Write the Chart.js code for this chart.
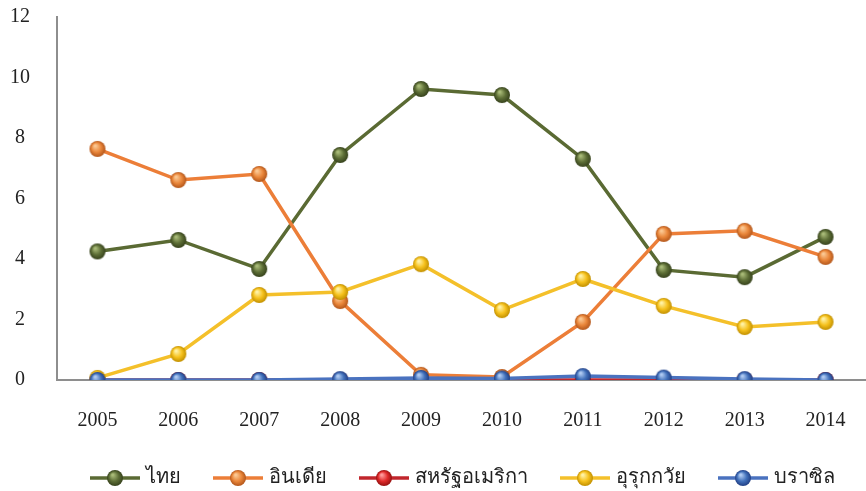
<!DOCTYPE html>
<html>
<head>
<meta charset="utf-8">
<script src="https://cdn.jsdelivr.net/npm/chart.js@4/dist/chart.umd.min.js"></script>
<style>
  html, body { margin: 0; padding: 0; background: #fff; }
  #wrap { width: 866px; height: 491px; }
</style>
</head>
<body>
<div id="wrap"><canvas id="exportChart"></canvas></div>
<script>
// ข้อมูลรายปี
const years = ["2005", "2006", "2007", "2008", "2009", "2010", "2011", "2012", "2013", "2014"];
const thai = [4.25, 4.63, 3.67, 7.44, 9.62, 9.42, 7.31, 3.64, 3.40, 4.73];
const india = [7.64, 6.61, 6.81, 2.61, 0.17, 0.10, 1.92, 4.83, 4.93, 4.07];
const usa = [0, 0, 0, 0, 0, 0, 0, 0, 0, 0];
const uruguay = [0.07, 0.86, 2.81, 2.91, 3.83, 2.31, 3.34, 2.45, 1.75, 1.92];
const brazil = [0, 0, 0, 0.03, 0.07, 0.05, 0.13, 0.08, 0.03, 0];
const yTicks = [0, 2, 4, 6, 8, 10, 12];

const seriesNames = ["ไทย", "อินเดีย", "สหรัฐอเมริกา", "อุรุกกวัย", "บราซิล"];
const lineColors = ["#5a6a33", "#ec7e38", "#c1262c", "#f4c02a", "#4a72bf"];
// สีลูกบอล [สว่าง, กลาง, มืด]
const ballColors = [
  ["#a9bb78", "#5d6e36", "#36421c"],
  ["#fbc893", "#ea873b", "#b3561a"],
  ["#ff9a9a", "#e02a2a", "#961010"],
  ["#fff2a6", "#f6c21e", "#c29000"],
  ["#b0cbf2", "#4271bb", "#213f85"]
];

const serif = "'Liberation Serif', 'Times New Roman', 'DejaVu Serif', serif";

function drawBall(ctx, cx, cy, r, c) {
  const g = ctx.createRadialGradient(cx - r * 0.3, cy - r * 0.4, r * 0.1, cx, cy, r);
  g.addColorStop(0, c[0]);
  g.addColorStop(0.55, c[1]);
  g.addColorStop(1, c[2]);
  ctx.fillStyle = g;
  ctx.beginPath();
  ctx.arc(cx, cy, r, 0, Math.PI * 2);
  ctx.fill();
}

// ภาพจุดแบบลูกบอล
function ballImage(c) {
  const cv = document.createElement("canvas");
  cv.width = 18; cv.height = 18;
  drawBall(cv.getContext("2d"), 9, 9, 8, c);
  return cv;
}

const allData = [thai, india, usa, uruguay, brazil];
const datasets = allData.map((d, i) => ({
  label: seriesNames[i],
  data: d,
  borderColor: lineColors[i],
  backgroundColor: lineColors[i],
  borderWidth: 3.5,
  pointStyle: ballImage(ballColors[i]),
  pointRadius: 8,
  tension: 0,
  order: allData.length - 1 - i   // ชุดหลังวาดทับชุดแรก
}));

// คำอธิบายด้านล่าง: เส้น + ลูกบอล + ชื่อ
const bottomLegend = {
  id: "bottomLegend",
  afterDraw(chart) {
    const ctx = chart.ctx;
    const area = chart.chartArea;
    const iconW = 50, gap = 6, spacing = 32, y = 478;
    ctx.save();
    ctx.font = "20px " + serif;
    ctx.textBaseline = "middle";
    const widths = chart.data.datasets.map(ds => iconW + gap + ctx.measureText(ds.label).width);
    const total = widths.reduce((a, b) => a + b, 0) + spacing * (widths.length - 1);
    let x = (area.left + area.right) / 2 - total / 2 + 1;
    chart.data.datasets.forEach((ds, i) => {
      ctx.strokeStyle = lineColors[i];
      ctx.lineWidth = 3.5;
      ctx.beginPath();
      ctx.moveTo(x, y);
      ctx.lineTo(x + iconW, y);
      ctx.stroke();
      drawBall(ctx, x + iconW / 2, y, 8, ballColors[i]);
      ctx.fillStyle = "#222";
      ctx.fillText(ds.label, x + iconW + gap, y);
      x += widths[i] + spacing;
    });
    ctx.restore();
  }
};

new Chart(document.getElementById("exportChart"), {
  type: "line",
  data: { labels: years, datasets: datasets },
  plugins: [bottomLegend],
  options: {
    responsive: true,
    maintainAspectRatio: false,
    animation: false,
    layout: { autoPadding: false, padding: { top: 17, right: 0, bottom: 51, left: 0 } },
    plugins: {
      tooltip: { enabled: false },
      legend: { display: false }
    },
    scales: {
      x: {
        offset: true,
        afterFit: (s) => { s.height = 60; s.paddingLeft = 0; s.paddingRight = 0; },
        grid: { display: false, drawTicks: false },
        border: { display: true, color: "#8e8e8e", width: 2 },
        ticks: { color: "#222", padding: 29, font: { family: serif, size: 20 } }
      },
      y: {
        min: 0,
        max: 12,
        afterBuildTicks: (s) => { s.ticks = yTicks.map(v => ({ value: v })); },
        afterFit: (s) => { s.width = 57; s.paddingTop = 0; s.paddingBottom = 0; },
        grid: { display: false, drawTicks: false },
        border: { display: true, color: "#8e8e8e", width: 2 },
        ticks: { color: "#222", padding: 27, crossAlign: "center", font: { family: serif, size: 20 } }
      }
    }
  }
});
</script>
</body>
</html>
